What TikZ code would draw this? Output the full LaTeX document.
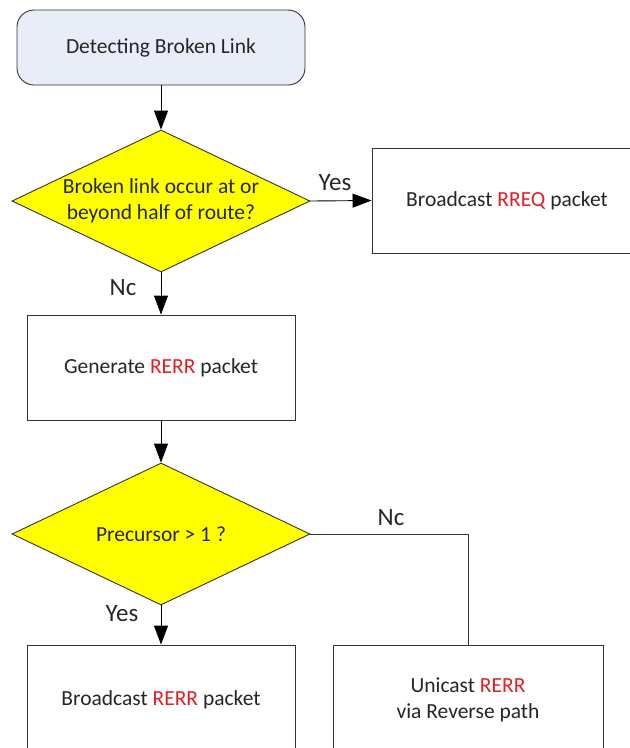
\documentclass[tikz,border=0pt]{standalone}
\usepackage{fontspec}
\setmainfont{Carlito}
\usetikzlibrary{shapes.geometric,arrows.meta}
\definecolor{startfill}{HTML}{E8EDF8}
\definecolor{decfill}{HTML}{FFFF00}
\definecolor{txt}{HTML}{262626}
\definecolor{hl}{HTML}{E41E26}
\definecolor{edge}{HTML}{333333}
\newcommand{\hlt}[1]{\textcolor{hl}{#1}}
\tikzset{
  base/.style={draw=edge, line width=0.9pt, text=txt, font=\fontsize{21.5}{26.5}\selectfont, align=center},
  startbox/.style={base, rounded corners=17pt, fill=startfill, minimum width=288pt, minimum height=75pt},
  procbox/.style={base, fill=white, minimum width=268pt, minimum height=105pt},
  decision/.style={base, diamond, aspect=2.1, fill=decfill, minimum width=298pt, minimum height=142pt, inner sep=0pt},
  flow/.style={draw=black, line width=0.9pt, -{Triangle[length=19pt,width=14pt]}},
  plain/.style={draw=edge, line width=0.9pt},
  lbl/.style={text=txt, font=\fontsize{25}{28}\selectfont}
}
\begin{document}
\begin{tikzpicture}[x=1pt,y=-1pt]
  \useasboundingbox (0,0) rectangle (630,748);
  \begin{scope}
  \clip (0,0) rectangle (630,748);
  \node[startbox] (start) at (161,47.5) {Detecting Broken Link};
  \node[decision] (half) at (161,201) {Broken link occur at or\\beyond half of route?};
  \node[procbox, minimum width=270pt] (rreq) at (507,200.5) {Broadcast \hlt{RREQ} packet};
  \node[procbox] (gen) at (161,367.5) {Generate \hlt{RERR} packet};
  \node[decision] (prec) at (161,534) {Precursor > 1 ?};
  \node[procbox, minimum height=110pt] (bcast) at (161,700) {Broadcast \hlt{RERR} packet};
  \node[procbox, minimum height=110pt, minimum width=270pt] (ucast) at (468,700) {Unicast \hlt{RERR}\\via Reverse path};

  \draw[flow] (start) -- (half);
  \draw[flow] (half.east) -- (rreq.west);
  \draw[flow] (half.south) -- (gen.north);
  \draw[flow] (gen.south) -- (prec.north);
  \draw[flow] (prec.south) -- (bcast.north);
  \draw[plain] (prec.east) -| (ucast.north);

  \node[lbl] (yes1) at (335,183) {Yes};
  \node[lbl] (no1) at (123,288) {Nc};
  \node[lbl] (no2) at (391,518) {Nc};
  \node[lbl] (yes2) at (122,614) {Yes};
  \end{scope}
\end{tikzpicture}
\end{document}
